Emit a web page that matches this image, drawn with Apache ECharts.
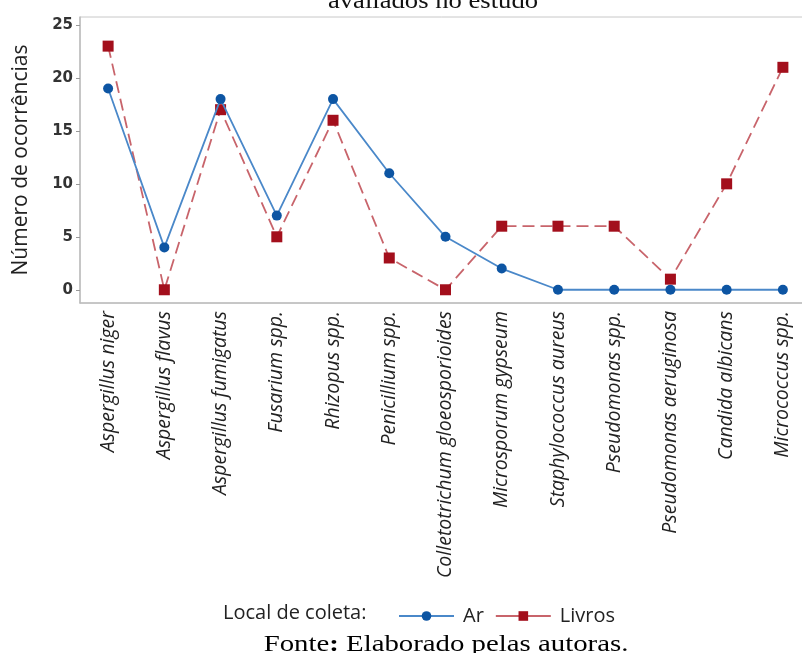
<!DOCTYPE html>
<html><head><meta charset="utf-8">
<script src="https://cdn.jsdelivr.net/npm/echarts@6/dist/echarts.min.js"></script>
<style>html,body{margin:0;padding:0;background:#fff}#c{width:802px;height:653px}</style>
</head><body><div id="c"></div>
<script>
const categories = ["Aspergillus niger","Aspergillus flavus","Aspergillus fumigatus","Fusarium spp.","Rhizopus spp.","Penicillium spp.","Colletotrichum gloeosporioides","Microsporum gypseum","Staphylococcus aureus","Pseudomonas spp.","Pseudomonas aeruginosa","Candida albicans","Micrococcus spp."];
const arValues = [19,4,18,7,18,11,5,2,0,0,0,0,0];
const livrosValues = [23,0,17,5,16,3,0,6,6,6,1,10,21];
const yTicks = [0,5,10,15,20,25];

const chart = echarts.init(document.getElementById('c'), null, {renderer:'canvas'});
const sans = '"Open Sans", sans-serif';
const serif = '"Liberation Serif", "Times New Roman", serif';
chart.setOption({
  animation:false,
  graphic:[
    {type:'text', x:433, y:14, scaleX:1.11, style:{text:'avaliados no estudo', font:'24px ' + serif, fill:'#111', align:'center', verticalAlign:'bottom'}},
    {type:'text', x:223, y:613, style:{text:'Local de coleta:', font:'20px ' + sans, fill:'#222', verticalAlign:'middle'}},
    {type:'text', x:446, y:657, scaleX:1.2, style:{text:'{a|Fonte}{b|:}{a| Elaborado pelas autoras.}', align:'center', verticalAlign:'bottom',
      rich:{a:{fontFamily:serif, fontSize:24, color:'#111'}, b:{fontFamily:serif, fontSize:24, fontWeight:'bold', color:'#111'}}}}
  ],
  legend:{
    left:393, top:601, itemWidth:55, itemHeight:12, itemGap:11,
    lineStyle:{type:'solid'},
    textStyle:{fontFamily:sans, fontSize:20, color:'#222', padding:[0,0,0,4]},
    data:['Ar','Livros']
  },
  grid:{left:80, top:17, right:-9, bottom:350, outerBoundsMode:'none', containLabel:false, show:true, borderColor:'#c8c8c8', borderWidth:1},
  xAxis:{
    type:'category', data:categories, boundaryGap:true,
    axisLine:{onZero:false, lineStyle:{color:'#bdbdbd', width:1.5}},
    axisTick:{alignWithLabel:true, length:4, lineStyle:{color:'#999'}},
    axisLabel:{rotate:90, interval:0, margin:8, fontFamily:sans, fontStyle:'italic', fontSize:19.5, color:'#222'}
  },
  yAxis:{
    type:'value', min:-1.25, max:25.75,
    name:'Número de ocorrências', nameLocation:'middle', nameGap:48, nameRotate:90,
    nameTextStyle:{fontFamily:sans, fontSize:21, color:'#222'},
    splitLine:{show:false},
    axisLine:{show:true, lineStyle:{color:'#bdbdbd', width:1.5}},
    axisTick:{show:true, length:4, customValues:yTicks, lineStyle:{color:'#999'}},
    axisLabel:{customValues:yTicks, fontFamily:'"DejaVu Sans", sans-serif', fontWeight:'bold', fontSize:15, color:'#333', margin:7}
  },
  series:[
    {name:'Ar', type:'line', data:arValues, symbol:'circle', symbolSize:10,
     itemStyle:{color:'#0d55a3'}, lineStyle:{color:'#4a88c9', width:1.8, type:'solid'}, z:3},
    {name:'Livros', type:'line', data:livrosValues, symbol:'rect', symbolSize:11,
     itemStyle:{color:'#a30f1c'}, lineStyle:{color:'#c8646b', width:1.8, type:[12,6]}, z:2}
  ]
});
</script></body></html>
